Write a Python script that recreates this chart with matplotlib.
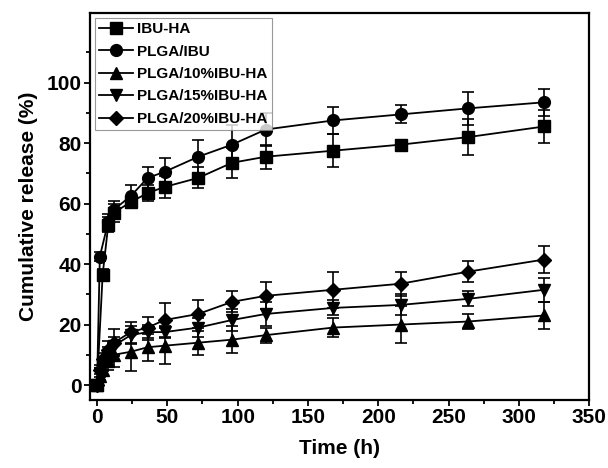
import matplotlib
matplotlib.use('agg')
import matplotlib.pyplot as plt
from matplotlib.ticker import MultipleLocator

plt.rcParams['font.family'] = ['Liberation Sans', 'DejaVu Sans']
plt.rcParams['font.weight'] = 'bold'

# release data
t_ibu_ha = [0, 4, 8, 12, 24, 36, 48, 72, 96, 120, 168, 216, 264, 318]
ibu_ha = [0, 36.5, 53, 57, 60.5, 63.5, 65.5, 68.5, 73.5, 75.5, 77.5, 79.5, 82, 85.5]
ibu_ha_err = [0, 2, 2.5, 3, 2, 2.5, 3.5, 3.5, 5, 4, 5.5, 1.5, 6, 5.5]

t_plga_ibu = [0, 2, 8, 12, 24, 36, 48, 72, 96, 120, 168, 216, 264, 318]
plga_ibu = [0, 42.5, 54, 58, 62.5, 68.5, 70.5, 75.5, 79.5, 84.5, 87.5, 89.5, 91.5, 93.5]
plga_ibu_err = [0, 1.5, 2.5, 3, 3.5, 3.5, 4.5, 5.5, 6.5, 5.5, 4.5, 3, 5.5, 4.5]

t_comp = [0, 2, 4, 8, 12, 24, 36, 48, 72, 96, 120, 168, 216, 264, 318]
plga_10 = [0, 3, 5, 8, 10, 11, 12.5, 13, 14, 15, 16.5, 19, 20, 21, 23]
plga_10_err = [0, 1.5, 2, 3, 4, 6.5, 4.5, 6, 4, 4.5, 2.5, 3, 6, 2.5, 4.5]
plga_15 = [0, 4, 6.5, 10, 13, 16.5, 17.5, 17.5, 19, 21.5, 23.5, 25.5, 26.5, 28.5, 31.5]
plga_15_err = [0, 1.5, 2, 2.5, 3, 3, 2.5, 2, 3, 3.5, 4, 2.5, 3.5, 2.5, 4]
plga_20 = [0, 5, 8.5, 11.5, 14, 17.5, 19, 21.5, 23.5, 27.5, 29.5, 31.5, 33.5, 37.5, 41.5]
plga_20_err = [0, 1.5, 2, 3, 4.5, 3.5, 3.5, 5.5, 4.5, 3.5, 4.5, 6, 4, 3.5, 4.5]

series = [
    ('IBU-HA', t_ibu_ha, ibu_ha, ibu_ha_err, 's'),
    ('PLGA/IBU', t_plga_ibu, plga_ibu, plga_ibu_err, 'o'),
    ('PLGA/10%IBU-HA', t_comp, plga_10, plga_10_err, '^'),
    ('PLGA/15%IBU-HA', t_comp, plga_15, plga_15_err, 'v'),
    ('PLGA/20%IBU-HA', t_comp, plga_20, plga_20_err, 'D'),
]

fig = plt.figure(figsize=(6.08, 4.68), dpi=100)
ax = fig.add_axes([0.148, 0.145, 0.821, 0.827])

for label, t, y, err, m in series:
    ms = 7.5 if m == 'D' else 8.5
    ax.errorbar(t, y, yerr=err, color='black', marker=m, markersize=ms,
                linewidth=1.3, elinewidth=1.2, capsize=4, capthick=1.2,
                label=label)

ax.set_xlim(-5, 350)
ax.set_ylim(-5, 123)
ax.set_xticks(range(0, 351, 50))
ax.xaxis.set_minor_locator(MultipleLocator(25))
ax.set_yticks(range(0, 101, 20))
ax.set_yticks(range(10, 111, 20), minor=True)

ax.tick_params(which='major', direction='out', length=4, width=1.3,
               labelsize=15, pad=2)
ax.tick_params(which='minor', direction='out', length=3, width=1.3)
for s in ax.spines.values():
    s.set_linewidth(1.6)

ax.set_xlabel('Time (h)', fontsize=15, fontweight='bold', labelpad=8)
ax.set_ylabel('Cumulative release (%)', fontsize=15, fontweight='bold', labelpad=6)

handles, labels = ax.get_legend_handles_labels()
handles = [h[0] for h in handles]
leg = ax.legend(handles, labels, loc='upper left', fontsize=11, frameon=True,
                fancybox=False, edgecolor='gray', borderaxespad=0.3,
                labelspacing=0.55, handlelength=2.2, handletextpad=0.3,
                borderpad=0.3)
leg.get_frame().set_linewidth(0.8)

fig.savefig('out.png', dpi=100)
